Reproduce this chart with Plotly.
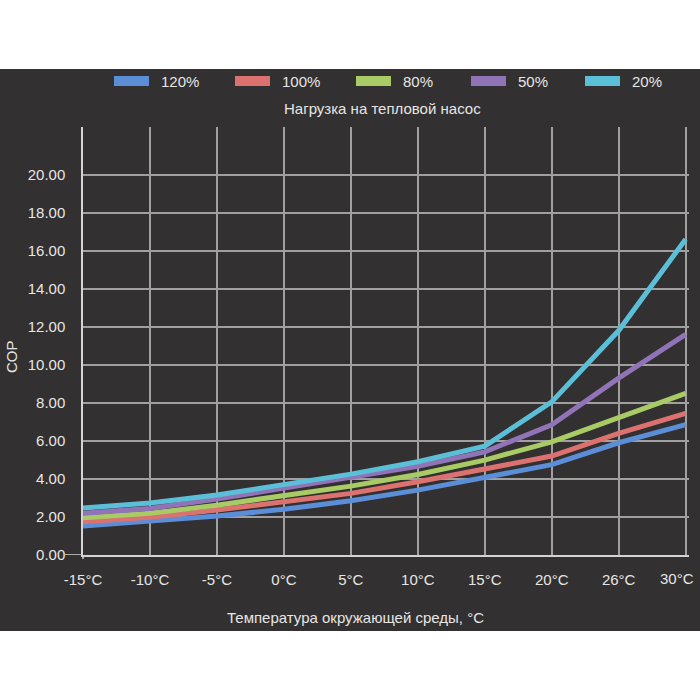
import plotly.graph_objects as go

# ---------------- data ----------------
categories = ["-15°C", "-10°C", "-5°C", "0°C", "5°C", "10°C", "15°C", "20°C", "26°C", "30°C"]
series_names = ["120%", "100%", "80%", "50%", "20%"]
cop_120 = [1.52, 1.78, 2.05, 2.40, 2.85, 3.41, 4.08, 4.75, 5.90, 6.85]
cop_100 = [1.75, 1.98, 2.36, 2.80, 3.24, 3.85, 4.55, 5.20, 6.40, 7.45]
cop_80 = [1.96, 2.19, 2.62, 3.15, 3.62, 4.23, 4.99, 5.95, 7.25, 8.50]
cop_50 = [2.20, 2.45, 2.94, 3.50, 4.06, 4.67, 5.42, 6.85, 9.30, 11.60]
cop_20 = [2.47, 2.73, 3.15, 3.67, 4.25, 4.90, 5.72, 8.05, 11.80, 16.60]
y_tick_values = [0, 2, 4, 6, 8, 10, 12, 14, 16, 18, 20]
legend_title = "Нагрузка на тепловой насос"
x_title = "Температура окружающей среды, °C"
y_title = "COP"

# ---------------- style ----------------
colors = ["#5b8ed6", "#dc7270", "#a9cb66", "#9173b8", "#5bbfd8"]
BG = "#323030"
TXT = "#e6e6e6"
GRID = "#a0a0a0"
AXIS = "#d4d4d4"
FONT = "Liberation Sans, Arial, sans-serif"
FS = 15

W, H = 700, 700
L, R, T, B = 83, 11, 127, 145
PW, PH = W - L - R, H - T - B


def px_x(p):
    return (p - L) / PW


def px_y(p):
    return (H - B - p) / PH


x_idx = list(range(len(categories)))
series_vals = [cop_120, cop_100, cop_80, cop_50, cop_20]

fig = go.Figure()
for name, vals, col in zip(series_names, series_vals, colors):
    fig.add_trace(go.Scatter(
        x=x_idx, y=vals, mode="lines", name=name,
        line=dict(color=col, width=5), showlegend=False,
        hoverinfo="skip",
    ))

shapes = []
annotations = []

# white strips above and below the dark panel
shapes.append(dict(type="rect", xref="paper", yref="paper", layer="above",
                   x0=px_x(-5), x1=px_x(W + 5), y0=px_y(69), y1=px_y(-5),
                   fillcolor="white", line=dict(width=0)))
shapes.append(dict(type="rect", xref="paper", yref="paper", layer="above",
                   x0=px_x(-5), x1=px_x(W + 5), y0=px_y(W + 5), y1=px_y(631),
                   fillcolor="white", line=dict(width=0)))

# x axis line extension to the left of the y axis, and y axis stub below
shapes.append(dict(type="line", xref="paper", yref="y", layer="above",
                   x0=px_x(65), x1=0, y0=0, y1=0,
                   line=dict(color=AXIS, width=1.5)))
shapes.append(dict(type="line", xref="paper", yref="paper", layer="above",
                   x0=0, x1=0, y0=px_y(559), y1=0,
                   line=dict(color=AXIS, width=1.5)))

# manual legend
legend_box_x = [114, 235, 356, 471, 585]
for name, col, bx in zip(series_names, colors, legend_box_x):
    shapes.append(dict(type="rect", xref="paper", yref="paper",
                       x0=px_x(bx), x1=px_x(bx + 35), y0=px_y(86), y1=px_y(76),
                       fillcolor=col, line=dict(width=0)))
    annotations.append(dict(xref="paper", yref="paper", x=px_x(bx + 45), y=px_y(81),
                            text=name, showarrow=False, xanchor="left", yanchor="middle",
                            font=dict(size=FS, color=TXT, family=FONT)))

annotations.append(dict(xref="paper", yref="paper", x=px_x(382), y=px_y(108),
                        text=legend_title, showarrow=False, xanchor="center", yanchor="middle",
                        font=dict(size=FS, color=TXT, family=FONT)))
annotations.append(dict(xref="paper", yref="paper", x=px_x(355), y=px_y(617),
                        text=x_title, showarrow=False, xanchor="center", yanchor="middle",
                        font=dict(size=FS, color=TXT, family=FONT)))
annotations.append(dict(xref="paper", yref="paper", x=px_x(11), y=px_y(357),
                        text=y_title, showarrow=False, xanchor="center", yanchor="middle",
                        textangle=-90,
                        font=dict(size=FS, color=TXT, family=FONT)))
# last category label sits slightly inside the panel edge
annotations.append(dict(xref="paper", yref="paper", x=px_x(677), y=px_y(578),
                        text=categories[-1], showarrow=False, xanchor="center", yanchor="middle",
                        font=dict(size=FS, color=TXT, family=FONT)))
tick_text = categories[:-1] + [""]

fig.update_layout(
    width=W, height=H,
    margin=dict(l=L, r=R, t=T, b=B, pad=0),
    paper_bgcolor=BG, plot_bgcolor=BG,
    font=dict(family=FONT, color=TXT, size=FS),
    showlegend=False,
    shapes=shapes, annotations=annotations,
    xaxis=dict(
        range=[0, 9.05], tickmode="array", tickvals=x_idx, ticktext=tick_text,
        showgrid=True, gridcolor=GRID, gridwidth=1.5, zeroline=False,
        showline=True, linecolor=AXIS, linewidth=1.5,
        ticks="outside", ticklen=10, tickcolor="rgba(0,0,0,0)",
        tickfont=dict(size=FS, color=TXT, family=FONT),
        fixedrange=True,
    ),
    yaxis=dict(
        range=[0, 22.5], tickmode="array", tickvals=y_tick_values, tickformat=".2f",
        showgrid=True, gridcolor=GRID, gridwidth=1.5, zeroline=False,
        showline=True, linecolor=AXIS, linewidth=1.5,
        ticks="outside", ticklen=13, tickcolor="rgba(0,0,0,0)",
        tickfont=dict(size=FS, color=TXT, family=FONT),
        fixedrange=True,
    ),
)

fig.write_html("out.html")
